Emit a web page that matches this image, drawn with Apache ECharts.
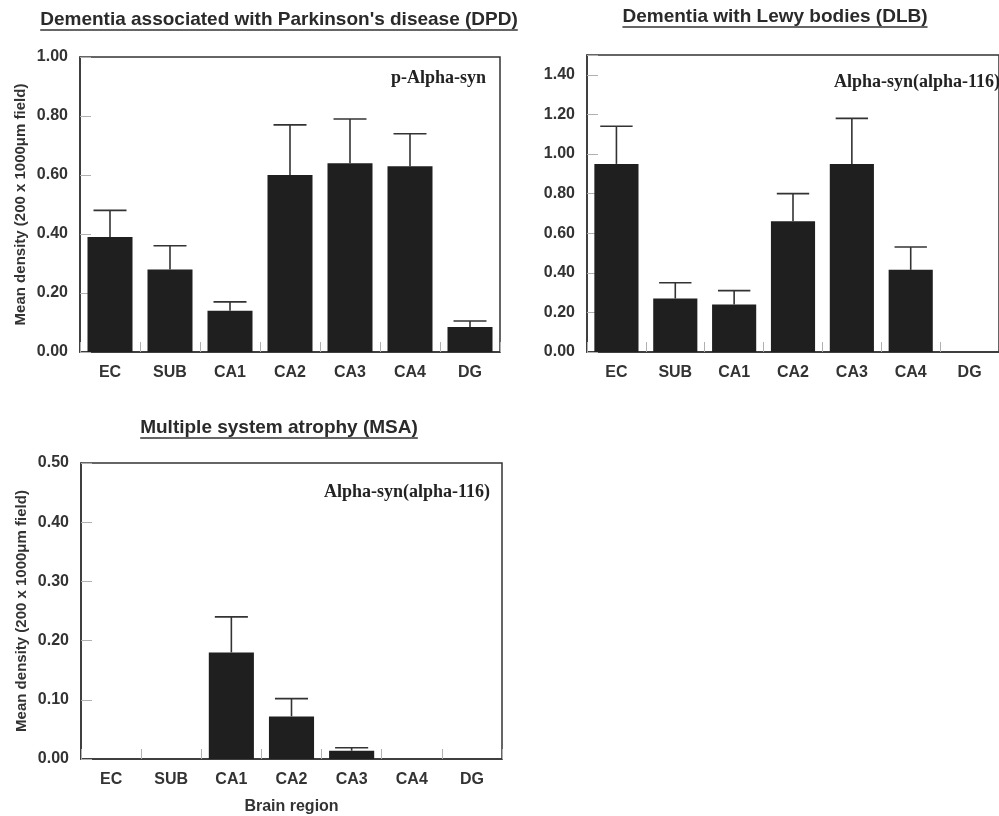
<!DOCTYPE html>
<html>
<head>
<meta charset="utf-8">
<title>Alpha-synuclein density by brain region</title>
<script src="https://cdn.jsdelivr.net/npm/echarts@6/dist/echarts.min.js"></script>
<style>
  html, body { margin: 0; padding: 0; background: #fff; }
  #chart { width: 999px; height: 816px; }
</style>
</head>
<body>
<div id="chart"></div>
<script>
// Brain regions (x categories shared by all three panels)
const categories = ['EC', 'SUB', 'CA1', 'CA2', 'CA3', 'CA4', 'DG'];

// Dementia associated with Parkinson's disease — p-Alpha-syn
const dpdMean  = [0.39, 0.28, 0.14, 0.60, 0.64, 0.63, 0.085];
const dpdUpper = [0.48, 0.36, 0.17, 0.77, 0.79, 0.74, 0.105];

// Dementia with Lewy bodies — Alpha-syn(alpha-116)
const dlbMean  = [0.95, 0.27, 0.24, 0.66, 0.95, 0.415, 0];
const dlbUpper = [1.14, 0.35, 0.31, 0.80, 1.18, 0.53, null];

// Multiple system atrophy — Alpha-syn(alpha-116)
const msaMean  = [0, 0, 0.18, 0.072, 0.014, 0, 0];
const msaUpper = [null, null, 0.24, 0.102, 0.019, null, null];

// Panel titles, antibody labels and axis names
const panelTitles = [
  'Dementia associated with Parkinson\'s disease (DPD)',
  'Dementia with Lewy bodies (DLB)',
  'Multiple system atrophy (MSA)'
];
const stainLabels = ['p-Alpha-syn', 'Alpha-syn(alpha-116)', 'Alpha-syn(alpha-116)'];
const yAxisName = 'Mean density (200 x 1000\u03bcm field)';
const xAxisName = 'Brain region';

// Y axis ranges per panel
const yMax = [1.0, 1.5, 0.5];
const yStep = [0.2, 0.2, 0.1];

const SANS = '"Liberation Sans", Arial, Helvetica, sans-serif';
const SERIF = '"Liberation Serif", "Times New Roman", serif';
const INK = '#1f1f1f';
const AXIS = '#333';
const TICK = '#b0b0b0';

const grids = [
  { left: 80,  top: 57,  width: 420, height: 295 },
  { left: 587, top: 55,  width: 421, height: 297 },
  { left: 81,  top: 463, width: 421, height: 299 }
];

function measure(text, font) {
  const c = document.createElement('canvas').getContext('2d');
  c.font = font;
  return c.measureText(text).width;
}

const chart = echarts.init(document.getElementById('chart'), null, { renderer: 'canvas' });

const xAxes = grids.map((g, i) => ({
  type: 'category',
  gridIndex: i,
  data: categories,
  name: i === 2 ? xAxisName : '',
  nameLocation: 'middle',
  nameGap: 40,
  nameTextStyle: { fontFamily: SANS, fontWeight: 'bold', fontSize: 16, color: '#333' },
  axisLine: { lineStyle: { color: AXIS, width: 1.5 } },
  axisTick: { show: true, inside: true, length: 10, alignWithLabel: false, lineStyle: { color: TICK, width: 1 } },
  axisLabel: { margin: 13, fontFamily: SANS, fontWeight: 'bold', fontSize: 16, color: '#333' },
  splitLine: { show: false }
}));

const yAxes = grids.map((g, i) => ({
  type: 'value',
  gridIndex: i,
  min: 0,
  max: yMax[i],
  interval: yStep[i],
  name: i === 1 ? '' : yAxisName,
  nameLocation: 'middle',
  nameGap: 52,
  nameTextStyle: { fontFamily: SANS, fontWeight: 'bold', fontSize: 15, color: '#333' },
  axisLine: { show: true, lineStyle: { color: AXIS, width: 1.5 } },
  axisTick: { show: true, inside: true, length: 11, lineStyle: { color: TICK, width: 1 } },
  axisLabel: {
    margin: 12, fontFamily: SANS, fontWeight: 'bold', fontSize: 16, color: '#333',
    formatter: v => {
      const k = Math.round(v / yStep[i]);
      return Math.abs(k * yStep[i] - v) < 1e-9 ? v.toFixed(2) : '';
    }
  },
  splitLine: { show: false }
}));

function errorSeries(idx, mean, upper) {
  const data = [];
  categories.forEach((c, k) => {
    if (upper[k] != null) data.push([k, mean[k], upper[k]]);
  });
  return {
    type: 'custom',
    xAxisIndex: idx,
    yAxisIndex: idx,
    data: data,
    z: 3,
    renderItem: (params, api) => {
      const x = api.value(0);
      const base = api.coord([x, api.value(1)]);
      const top = api.coord([x, api.value(2)]);
      const half = api.size([1, 0])[0] * 0.275;
      const style = { stroke: AXIS, lineWidth: 1.6 };
      return {
        type: 'group',
        children: [
          { type: 'line', shape: { x1: top[0], y1: base[1], x2: top[0], y2: top[1] }, style: style },
          { type: 'line', shape: { x1: top[0] - half, y1: top[1], x2: top[0] + half, y2: top[1] }, style: style }
        ]
      };
    }
  };
}

function barSeries(idx, mean) {
  return {
    type: 'bar',
    xAxisIndex: idx,
    yAxisIndex: idx,
    data: mean,
    barWidth: '75%',
    itemStyle: { color: INK },
    z: 2
  };
}

// Titles with underline, and antibody labels inside each plot
const titleFont = 'bold 19px ' + SANS;
const titleCenters = [[279, 20], [775, 17], [279, 428]];
const graphics = [];
panelTitles.forEach((t, i) => {
  const w = measure(t, titleFont);
  const [cx, cy] = titleCenters[i];
  graphics.push({
    type: 'text', x: cx, y: cy,
    style: { text: t, font: titleFont, fill: '#2a2a2a', align: 'center', verticalAlign: 'middle' }
  });
  graphics.push({
    type: 'line',
    shape: { x1: cx - w / 2, y1: cy + 10, x2: cx + w / 2, y2: cy + 10 },
    style: { stroke: '#333', lineWidth: 1.4 }
  });
});

const stainPos = [[486, 78], [1000, 82], [490, 492]];
stainLabels.forEach((t, i) => {
  graphics.push({
    type: 'text', x: stainPos[i][0], y: stainPos[i][1],
    style: { text: t, font: 'bold 18px ' + SERIF, fill: '#222', align: 'right', verticalAlign: 'middle' }
  });
});

chart.setOption({
  animation: false,
  backgroundColor: '#fff',
  grid: grids.map(g => Object.assign({ show: true, borderColor: AXIS, borderWidth: 1.5, backgroundColor: 'transparent' }, g)),
  xAxis: xAxes,
  yAxis: yAxes,
  series: [
    barSeries(0, dpdMean), errorSeries(0, dpdMean, dpdUpper),
    barSeries(1, dlbMean), errorSeries(1, dlbMean, dlbUpper),
    barSeries(2, msaMean), errorSeries(2, msaMean, msaUpper)
  ],
  graphic: graphics
});
</script>
</body>
</html>
